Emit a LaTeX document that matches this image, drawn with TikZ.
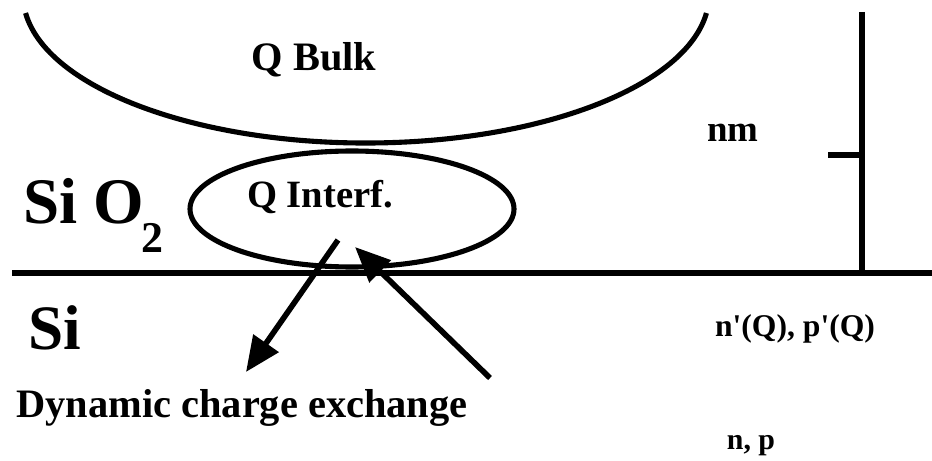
\documentclass[tikz,border=0pt]{standalone}
\usepackage{fontspec}
\setmainfont{Liberation Serif}
\usepackage{tikz}
\usetikzlibrary{arrows.meta}

\tikzset{
  heavy/.style={line width=2.9pt},
  lbl/.style={font=\bfseries, inner sep=0pt},
  bigarrow/.style={line width=3.2pt, -{Triangle[length=20pt,width=17pt]}}
}

\begin{document}
\begin{tikzpicture}[x=0.02cm, y=0.02cm]
			\useasboundingbox (0,0) rectangle (932,460);
			\begin{scope}
				\clip (0,0) rectangle (932,448);
				\draw[heavy] (366,465) ++(187:343 and 148) arc [start angle=187, end angle=353, x radius=343, y radius=148];
			\end{scope}
			\draw[heavy] (12,187) -- (932,187);
			\draw[heavy] (862,448) -- (862,187);
			\draw[heavy] (828,305) -- (862,305);
			
			\draw[heavy] (352,251) ellipse [x radius=162, y radius=58];
			
			\node[lbl, font=\bfseries\fontsize{23}{26}\selectfont] (bulk) at (314,400) {Q Bulk};
			\node[lbl, font=\bfseries\fontsize{22}{26}\selectfont] (interf) at (320,263) {Q Interf.};
			\node[lbl, font=\bfseries\fontsize{21}{24}\selectfont] (nm) at (733,327) {nm};
			\node[lbl, font=\bfseries\fontsize{37}{42}\selectfont] (sio) at (84,259) {Si O};
			\node[lbl, font=\bfseries\fontsize{25}{28}\selectfont] (two) at (152,222) {2};
			\node[lbl, font=\bfseries\fontsize{36}{40}\selectfont] (si) at (55,132) {Si};
			\node[lbl, font=\bfseries\fontsize{18}{20}\selectfont] (nq) at (795,131) {n\textquotesingle(Q), p\textquotesingle(Q)};
			\node[lbl, font=\bfseries\fontsize{17}{20}\selectfont] (np) at (751,14) {n, p};
			\node[lbl, font=\bfseries\fontsize{23}{26}\selectfont] (dce) at (242,52) {Dynamic charge exchange};
			
			\coordinate (out) at (338,220);
			\coordinate (outtip) at (246,88);
			\coordinate (in) at (490,82);
			\coordinate (intip) at (355,213);
			\draw[bigarrow] (out) -- (outtip);
			\draw[bigarrow] (in) -- (intip);
		\end{tikzpicture}
\end{document}
